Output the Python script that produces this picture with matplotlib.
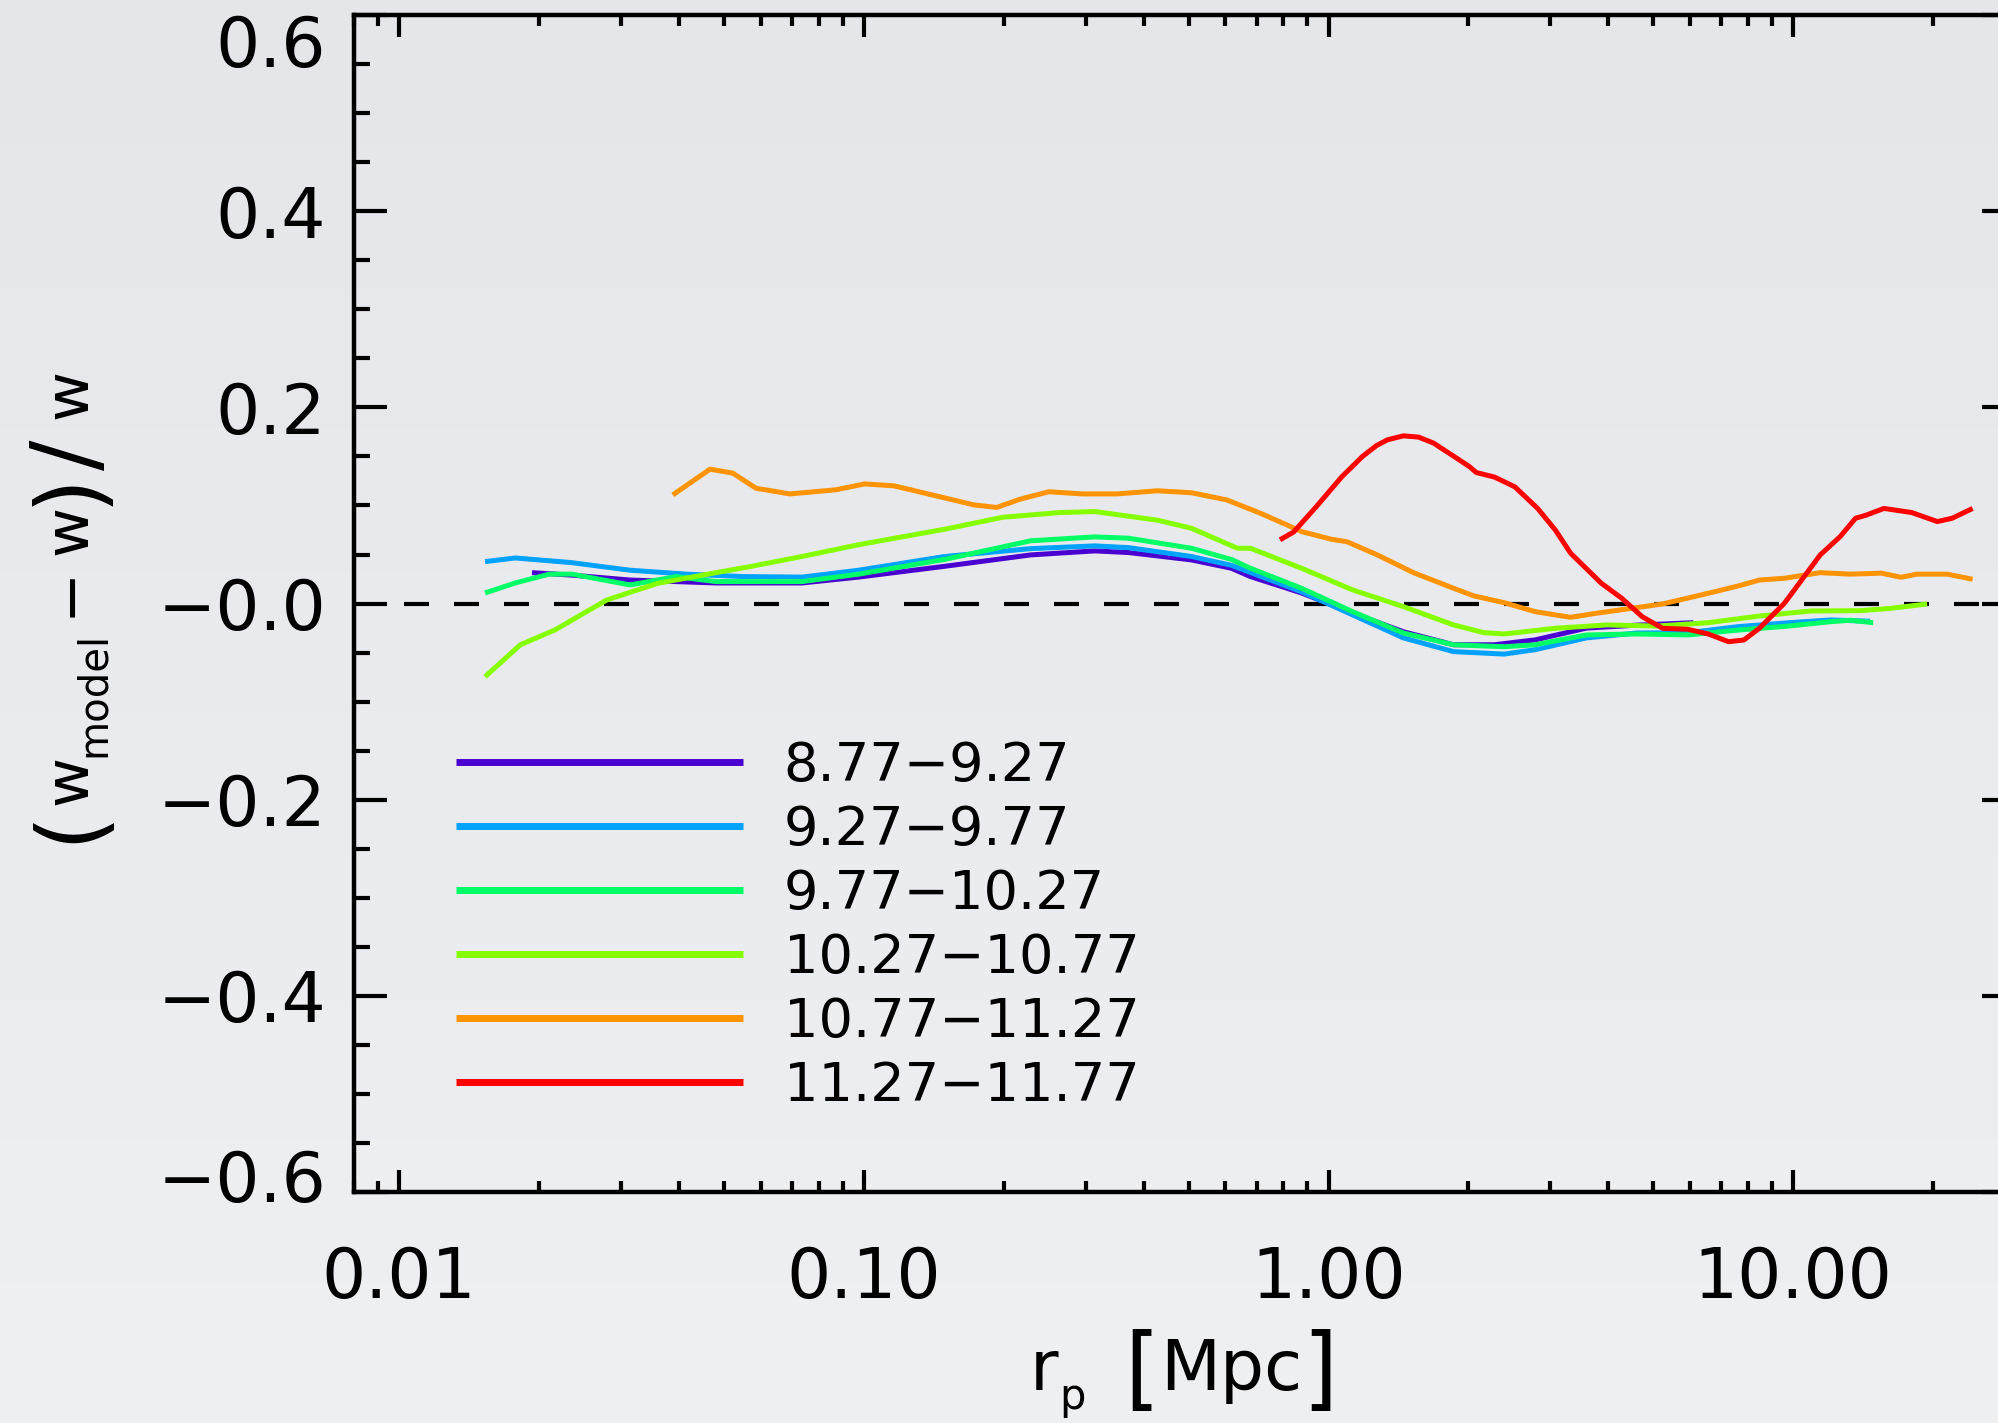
import numpy as np
import matplotlib
matplotlib.use("Agg")
import matplotlib.pyplot as plt
from matplotlib.transforms import ScaledTranslation

plt.rcParams['font.family'] = ['DejaVu Sans']
plt.rcParams['lines.scale_dashes'] = False

# stellar mass bins (legend labels)
bins = ["8.77\u22129.27", "9.27\u22129.77", "9.77\u221210.27",
        "10.27\u221210.77", "10.77\u221211.27", "11.27\u221211.77"]
colors = ["#4a00d0", "#00a2ff", "#00ff66", "#86ff00", "#ff9400", "#ff0000"]

# log10(r_p / Mpc) and (w_model - w)/w for each bin
lr_1 = [-1.714, -1.628, -1.503, -1.318, -1.133, -1.011, -0.826, -0.641, -0.503, -0.430,
        -0.295, -0.209, -0.168, -0.058, 0.052, 0.161, 0.269, 0.357, 0.445, 0.555, 0.664, 0.785]
v_1 = [0.0315, 0.029, 0.024, 0.021, 0.021, 0.027, 0.038, 0.0496, 0.0537, 0.052,
       0.0445, 0.036, 0.0275, 0.0108, -0.0097, -0.0287, -0.042, -0.042, -0.037, -0.025, -0.022, -0.0195]

lr_2 = [-1.815, -1.75, -1.628, -1.503, -1.381, -1.258, -1.133, -1.011, -0.826, -0.641, -0.503,
        -0.430, -0.295, -0.209, -0.058, 0.052, 0.161, 0.269, 0.378, 0.445, 0.555, 0.664,
        0.774, 0.882, 0.991, 1.080, 1.165]
v_2 = [0.0428, 0.0465, 0.0417, 0.034, 0.030, 0.0275, 0.027, 0.034, 0.048, 0.056, 0.0588,
       0.057, 0.048, 0.039, 0.012, -0.0116, -0.035, -0.049, -0.0515, -0.047, -0.035, -0.030,
       -0.0297, -0.0235, -0.0195, -0.0167, -0.018]

lr_3 = [-1.815, -1.75, -1.677, -1.628, -1.503, -1.404, -1.318, -1.133, -1.011, -0.826, -0.641,
        -0.503, -0.430, -0.295, -0.209, -0.168, -0.058, 0.052, 0.161, 0.269, 0.378, 0.445,
        0.555, 0.664, 0.774, 0.882, 0.991, 1.080, 1.123, 1.172]
v_3 = [0.0108, 0.021, 0.030, 0.030, 0.019, 0.0275, 0.0224, 0.0224, 0.030, 0.045, 0.064,
       0.068, 0.0666, 0.0564, 0.045, 0.036, 0.0156, -0.0083, -0.030, -0.042, -0.044, -0.042,
       -0.032, -0.031, -0.032, -0.027, -0.0229, -0.0185, -0.017, -0.0195]

lr_4 = [-1.815, -1.739, -1.665, -1.553, -1.443, -1.318, -1.245, -1.133, -1.011, -0.826, -0.701,
        -0.578, -0.503, -0.368, -0.295, -0.196, -0.168, -0.058, 0.052, 0.161, 0.269, 0.335,
        0.378, 0.488, 0.598, 0.708, 0.817, 0.927, 1.037, 1.146, 1.211, 1.288]
v_4 = [-0.0746, -0.042, -0.027, 0.0037, 0.0207, 0.0315, 0.0377, 0.048, 0.060, 0.0758, 0.088,
       0.0928, 0.0938, 0.085, 0.0768, 0.0564, 0.0564, 0.036, 0.0139, -0.0031, -0.0218, -0.0297,
       -0.031, -0.0252, -0.0218, -0.0229, -0.0195, -0.0127, -0.0076, -0.0072, -0.0048, -0.0004]

lr_5 = [-1.411, -1.331, -1.282, -1.232, -1.159, -1.060, -0.998, -0.935, -0.862, -0.763, -0.714,
        -0.664, -0.602, -0.529, -0.455, -0.368, -0.295, -0.219, -0.146, -0.084, -0.058, 0.006,
        0.040, 0.105, 0.183, 0.269, 0.313, 0.378, 0.445, 0.521, 0.576, 0.653, 0.719, 0.817,
        0.882, 0.927, 0.981, 1.058, 1.123, 1.190, 1.232, 1.266, 1.331, 1.386]
v_5 = [0.1108, 0.137, 0.133, 0.1176, 0.1118, 0.116, 0.122, 0.120, 0.1118, 0.1006, 0.098,
       0.1064, 0.114, 0.1118, 0.1118, 0.115, 0.113, 0.1057, 0.092, 0.079, 0.0734, 0.0656,
       0.063, 0.0496, 0.0315, 0.0156, 0.0078, 0.0009, -0.0083, -0.014, -0.0099, -0.0048, -0.0004, 0.0105,
       0.018, 0.024, 0.0258, 0.0315, 0.030, 0.031, 0.0268, 0.030, 0.030, 0.0248]

lr_6 = [-0.1045, -0.075, -0.026, 0.029, 0.073, 0.103, 0.127, 0.161, 0.194, 0.226, 0.270, 0.303,
        0.318, 0.357, 0.401, 0.450, 0.488, 0.521, 0.587, 0.631, 0.675, 0.719, 0.773, 0.817,
        0.861, 0.894, 0.927, 0.981, 1.058, 1.101, 1.134, 1.156, 1.195, 1.255, 1.310, 1.342, 1.386]
v_6 = [0.065, 0.073, 0.099, 0.1295, 0.150, 0.161, 0.167, 0.171, 0.1697, 0.1636, 0.150, 0.1397,
       0.1336, 0.129, 0.119, 0.097, 0.075, 0.0513, 0.0207, 0.0054, -0.0134, -0.0252, -0.0262, -0.031,
       -0.0389, -0.0371, -0.0252, 0.0003, 0.0496, 0.0683, 0.087, 0.090, 0.097, 0.0928, 0.0836, 0.087, 0.097]

series = [(lr_1, v_1), (lr_2, v_2), (lr_3, v_3), (lr_4, v_4), (lr_5, v_5), (lr_6, v_6)]

xticks = [0.01, 0.1, 1.0, 10.0]
xticklabels = ["0.01", "0.10", "1.00", "10.00"]
yticks = [-0.6, -0.4, -0.2, 0.0, 0.2, 0.4, 0.6]
yticklabels = ["\u22120.6", "\u22120.4", "\u22120.2", "\u22120.0", "0.2", "0.4", "0.6"]

W, H = 1998, 1423
fig = plt.figure(figsize=(W / 100, H / 100), dpi=100)

# keynote-like light grey gradient background
bg = fig.add_axes([0, 0, 1, 1], zorder=-10)
grad = np.linspace(0, 1, 256)[:, None]
top_c = np.array([0.898, 0.902, 0.918])
bot_c = np.array([0.937, 0.941, 0.949])
img = top_c[None, None, :] * (1 - grad[:, :, None]) + bot_c[None, None, :] * grad[:, :, None]
bg.imshow(img, aspect='auto', extent=[0, 1, 0, 1])
bg.axis('off')

ax = fig.add_axes([0.1772, 0.1623, 0.8313, 0.8271])
ax.set_facecolor('none')

for (lr, v), c, lab in zip(series, colors, bins):
    ax.plot(10 ** np.array(lr), v, color=c, lw=3.6, label=lab,
            solid_joinstyle='round', solid_capstyle='butt')

ax.axhline(0.0, xmin=0.03, xmax=1.0, color='black', lw=3.0, dashes=(18, 18), zorder=1)

ax.set_xscale('log')
ax.set_xlim(0.008, 30)
ax.set_ylim(-0.6, 0.6)
ax.set_xticks(xticks)
ax.set_xticklabels(xticklabels)
ax.set_yticks(yticks)
ax.set_yticklabels(yticklabels)
ax.yaxis.set_minor_locator(matplotlib.ticker.MultipleLocator(0.05))
ax.xaxis.set_minor_locator(matplotlib.ticker.LogLocator(base=10, subs=np.arange(2, 10)))
ax.xaxis.set_minor_formatter(matplotlib.ticker.NullFormatter())

ax.tick_params(which='both', direction='in', top=True, right=True, width=3, color='black')
ax.tick_params(axis='y', which='major', length=24, labelsize=50, pad=20)
ax.tick_params(axis='y', which='minor', length=11.5)
ax.tick_params(axis='x', which='major', length=16, labelsize=50, pad=38)
ax.tick_params(axis='x', which='minor', length=8)
for s in ax.spines.values():
    s.set_linewidth(3.2)

# pull the end labels inward like the original
labs = ax.get_yticklabels()
labs[-1].set_transform(labs[-1].get_transform() + ScaledTranslation(0, -0.25, fig.dpi_scale_trans))
labs[0].set_transform(labs[0].get_transform() + ScaledTranslation(0, 0.17, fig.dpi_scale_trans))

# axis titles built from pieces so the brackets can be drawn tall
# (text, x px, baseline y px, fontsize), pixels measured from the top-left
xlabel_parts = [("r", 1030, 1390, 50), ("p", 1059, 1409, 30), ("[", 1124, 1398, 65),
                ("Mpc", 1160, 1390, 50), ("]", 1302, 1398, 65)]
for s, px, py, fs in xlabel_parts:
    fig.text(px / W, 1 - py / H, s, fontsize=fs, ha='left', va='baseline')

# (text, baseline x px, start y px, fontsize) for the rotated y title
ylabel_parts = [("(", 95, 843, 65), ("w", 86, 805, 44), ("model", 105, 757, 29),
                ("\u2212", 86, 617, 44), ("w", 86, 555, 44), (")", 95, 506, 65),
                ("/", 97, 470, 65), ("w", 86, 419, 44)]
for s, px, py, fs in ylabel_parts:
    fig.text(px / W, 1 - py / H, s, fontsize=fs, rotation=90, rotation_mode='anchor',
             ha='left', va='baseline')

leg = ax.legend(loc='upper left', bbox_to_anchor=(0.0614, 0.384), frameon=False,
                fontsize=39, handlelength=5.3, handletextpad=0.75, labelspacing=0.222,
                borderaxespad=0, borderpad=0)
for h in leg.get_lines():
    h.set_linewidth(5)

fig.savefig('out.png', dpi=100, facecolor=fig.get_facecolor())
